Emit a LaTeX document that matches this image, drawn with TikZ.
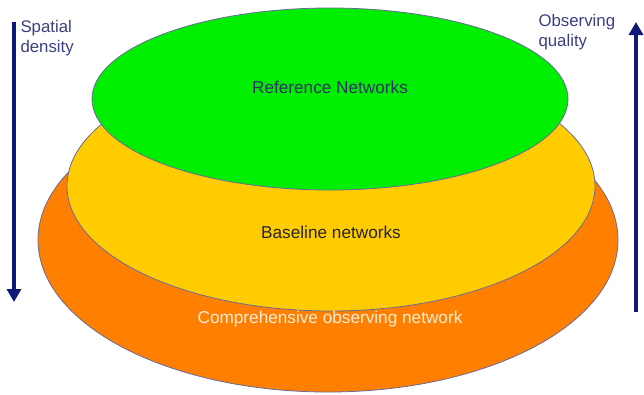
\documentclass[tikz,border=0pt]{standalone}
\usepackage{fontspec}
\setmainfont{Liberation Sans}
\usetikzlibrary{arrows.meta}

\definecolor{navyarrow}{HTML}{0D1A7A}
\definecolor{navytext}{HTML}{3A3F80}
\definecolor{ringline}{HTML}{6A6A9A}
\definecolor{greenfill}{HTML}{00EE00}
\definecolor{yellowfill}{HTML}{FFCC00}
\definecolor{orangefill}{HTML}{FF7F00}

\tikzset{
    ring/.style={draw=ringline, line width=0.8pt},
    ring label/.style={font=\fontsize{17.2}{20}\selectfont},
    scale arrow/.style={navyarrow, line width=4pt, -{Triangle[length=13pt,width=14pt]}},
    side label/.style={navytext, font=\fontsize{16.8}{20}\selectfont, align=left, anchor=north west}
}

\begin{document}
\begin{tikzpicture}[x=1pt,y=-1pt]
    \useasboundingbox (0,0) rectangle (644,394);

    % Nested networks
    \draw[ring,fill=orangefill] (328,240) ellipse [x radius=290, y radius=152];
    \draw[ring,fill=yellowfill] (331,186) ellipse [x radius=264, y radius=125];
    \draw[ring,fill=greenfill] (330,99) ellipse [x radius=238, y radius=91];

    \node[ring label, navytext!80!black] (ref) at (330,87) {Reference Networks};
    \node[ring label, black!85] (base) at (331,232) {Baseline networks};
    \node[ring label, orange!15!white] (comp) at (330,319) {Comprehensive observing network};

    % Side arrows
    \coordinate (densTop) at (14,22);
    \coordinate (densBot) at (14,302);
    \draw[scale arrow] (densTop) -- (densBot);
    \node[side label] (dens) at (17,17) {Spatial\\density};

    \coordinate (qualBot) at (636,312);
    \coordinate (qualTop) at (636,22);
    \draw[scale arrow] (qualBot) -- (qualTop);
    \node[side label] (qual) at (535,11) {Observing\\quality};
\end{tikzpicture}
\end{document}
